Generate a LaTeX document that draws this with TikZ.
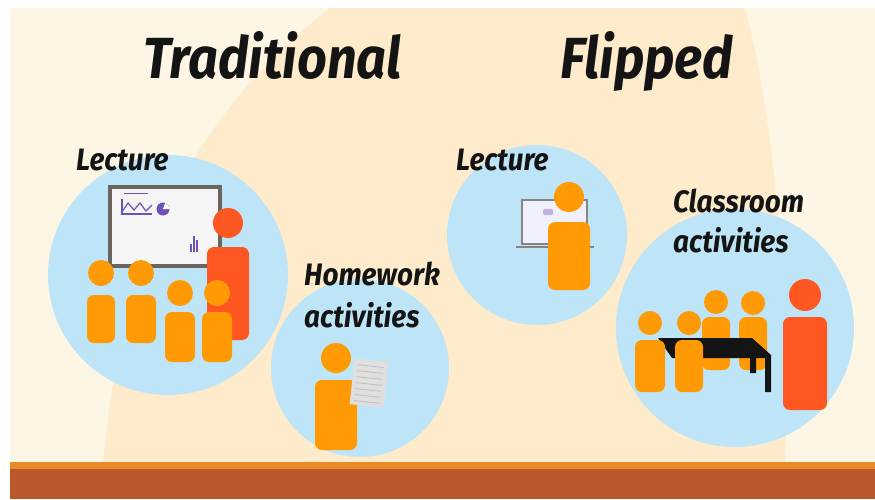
\documentclass[tikz,border=0pt]{standalone}
\usepackage{fontspec}
\setmainfont{Fira Sans}
\newfontfamily\slidefont{Fira Sans}[FakeStretch=0.9]

\definecolor{creamlight}{HTML}{FEF6E5}
\definecolor{creamdark}{HTML}{FDEBCB}
\definecolor{bubbleblue}{HTML}{BEE5F7}
\definecolor{pupilorange}{HTML}{FF9A05}
\definecolor{teacherred}{HTML}{FF5722}
\definecolor{bandbrown}{HTML}{BB582B}
\definecolor{bandline}{HTML}{E8892A}
\definecolor{boardgray}{HTML}{6B6560}
\definecolor{chartpurple}{HTML}{6F52B5}
\definecolor{inkblack}{HTML}{141414}

% head + body of one figure: x, head y, head radius, half width, body top, body bottom, colour
\newcommand{\drawperson}[7]{%
  \fill[#7] (#1,#2) circle[radius=#3];
  \fill[#7, rounded corners=7pt] (#1-#4,#6) rectangle (#1+#4,#5);
}

\begin{document}
\begin{tikzpicture}[x=1pt, y=-1pt,
  bubble/.style={circle, fill=bubbleblue, inner sep=0pt, minimum size=#1},
  title/.style={font=\slidefont\bfseries\itshape\fontsize{58}{60}\selectfont, text=inkblack, inner sep=0pt, anchor=base west},
  caption/.style={font=\slidefont\bfseries\itshape\fontsize{31}{33}\selectfont, text=inkblack, inner sep=0pt, anchor=base west}]

  % page and backdrop
  \useasboundingbox (0,0) rectangle (875,499);
  \fill[white] (0,0) rectangle (875,499);
  \fill[creamlight] (10,8) rectangle (875,466);
  \fill[creamdark] (103,466) .. controls (120,250) and (200,110) .. (330,8)
    -- (745,8) .. controls (775,120) and (790,300) .. (785,466) -- cycle;
  \fill[bandline] (10,462) rectangle (875,470);
  \fill[bandbrown] (10,469) rectangle (875,499);

  % titles
  \node[title] (trad) at (143,78) {Traditional};
  \node[title] (flip) at (560,78) {Flipped};

  % bubbles
  \node[bubble=240] (tradlec) at (168,275) {};
  \node[bubble=178] (homework) at (360,368) {};
  \node[bubble=180] (fliplec) at (537,235) {};
  \node[bubble=238] (classroom) at (735,328) {};

  \node[caption] (tradlecA) at (76,170) {Lecture};
  \node[caption] (hwA) at (304,285) {Homework};
  \node[caption] (hwB) at (304,327) {activities};
  \node[caption] (fliplecA) at (456,170) {Lecture};
  \node[caption] (classA) at (673,212) {Classroom};
  \node[caption] (classB) at (673,252) {activities};

  % traditional lecture: board, teacher, pupils
  \node[draw=boardgray, line width=4pt, fill=gray!8, minimum width=110, minimum height=79,
        inner sep=0pt] (board) at (165,226.5) {};
  \draw[chartpurple, line width=0.6pt] (124,193) -- (148,193);
  \draw[chartpurple, line width=1.2pt] (122,199) -- (122,214) -- (152,214);
  \draw[chartpurple, line width=1.2pt] (122,212) -- (128,203) -- (134,210) -- (140,203) -- (146,211) -- (152,205);
  \fill[chartpurple] (163,209) circle[radius=6.5];
  \fill[white] (163,209) -- (169.5,209) arc[start angle=0, end angle=-70, radius=6.5] -- cycle;
  \foreach \bx/\bt in {190/244, 193/236, 196/240}
    \fill[chartpurple] (\bx,252) rectangle (\bx+2.4,\bt);
  \drawperson{228}{223}{15}{21}{247}{340}{teacherred}
  \drawperson{101}{273}{13}{14}{295}{343}{pupilorange}
  \drawperson{141}{273}{13}{15}{295}{343}{pupilorange}
  \drawperson{180}{293}{13}{15}{312}{362}{pupilorange}
  \drawperson{217}{293}{13}{15}{312}{362}{pupilorange}

  % homework: pupil with a sheet
  \drawperson{336}{358}{15}{21}{380}{450}{pupilorange}
  \begin{scope}[rotate around={-6:(369,383)}]
    \fill[gray!25] (352,360) rectangle (386,406);
    \foreach \ly in {366,372,...,402}
      \draw[gray!50, line width=0.8pt] (356,\ly) -- (382,\ly);
  \end{scope}

  % flipped lecture: laptop and viewer
  \draw[boardgray!80, line width=2pt, fill=blue!6] (522,200) rectangle (587,244);
  \draw[boardgray!80, line width=2.5pt] (516,247) -- (594,247);
  \fill[chartpurple!45, rounded corners=1.5pt] (543,209) rectangle (553,215);
  \drawperson{569}{197}{15}{21}{222}{290}{pupilorange}

  % classroom: group around a table, teacher aside
  \drawperson{716}{302}{12}{14}{317}{370}{pupilorange}
  \drawperson{753}{303}{12}{14}{317}{370}{pupilorange}
  \drawperson{805}{295}{16}{22}{317}{410}{teacherred}
  \fill[black!92] (658,338) -- (752,338) -- (771,355) -- (771,392) -- (765,392) -- (765,358)
    -- (756,358) -- (756,373) -- (750,373) -- (750,358) -- (672,358) -- cycle;
  \drawperson{650}{323}{12}{15}{340}{392}{pupilorange}
  \drawperson{689}{323}{12}{14}{340}{392}{pupilorange}

\end{tikzpicture}
\end{document}
